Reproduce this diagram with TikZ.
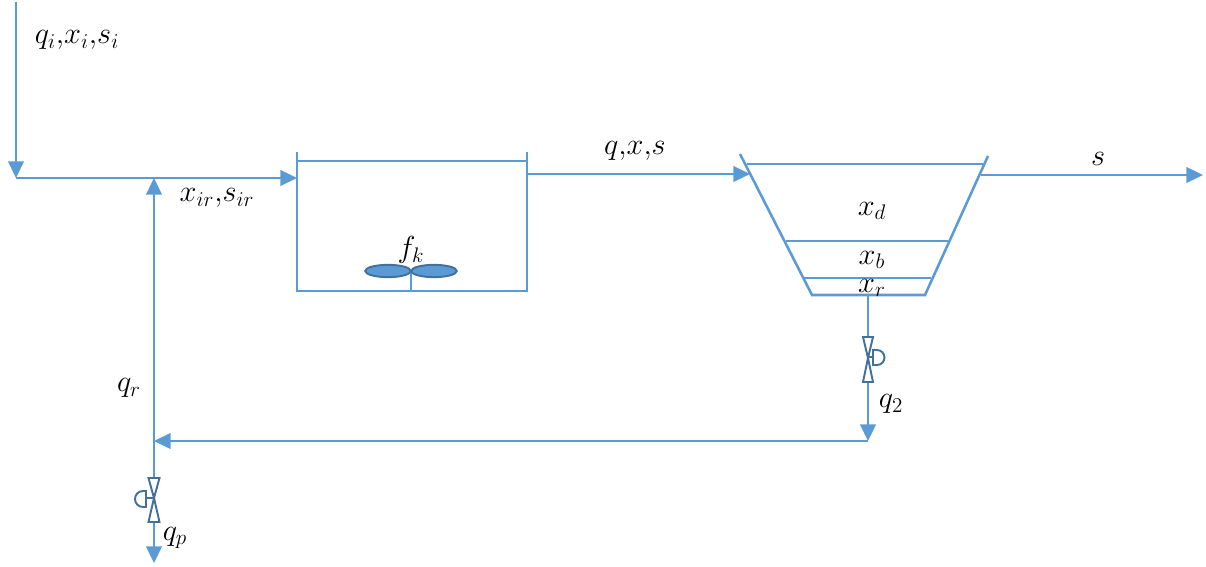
\documentclass[tikz,border=0pt]{standalone}
\usetikzlibrary{arrows.meta,shapes.geometric}
\tikzset{
  pipe/.style={flowblue,line width=1pt},
  flow/.style={pipe,-{Triangle[length=9.5pt,width=9pt]}},
  wall/.style={flowblue,line width=1.45pt},
  valvepart/.style={valveblue,line width=1.1pt,fill=white,line join=miter},
  blade/.style={ellipse,draw=valveblue,fill=flowblue,line width=1.1pt,minimum width=26pt,minimum height=7pt,inner sep=0pt},
  lab/.style={text=black,font=\fontsize{17.5}{19}\selectfont,inner sep=0pt}
}
\begin{document}
\begin{tikzpicture}[x=0.02cm,y=-0.02cm]
  \definecolor{flowblue}{HTML}{5B9BD5}
  \definecolor{valveblue}{HTML}{41719C}
  \path[use as bounding box] (0,0) rectangle (1206,567);
  % junctions and free ends
  \coordinate (feed) at (16,2);
  \coordinate (mix) at (16,178);
  \coordinate (recyc) at (154,178);
  \coordinate (tankin) at (297,178);
  \coordinate (tankout) at (527,174);
  \coordinate (clarin) at (750,174);
  \coordinate (clarout) at (981,175);
  \coordinate (effluent) at (1203,175);
  \coordinate (drain) at (868,295);
  \coordinate (return) at (868,441);
  \coordinate (tee) at (154,441);
  \coordinate (waste) at (154,563);
  \coordinate (valvea) at (868,337);
  \coordinate (valveb) at (868,382);
  \coordinate (valvec) at (154,478);
  \coordinate (valved) at (154,522);
  % flows
  \draw[flow] (feed) -- (mix);
  \draw[flow] (mix) -- (tankin);
  \draw[flow] (tee) -- (recyc);
  \draw[flow] (tankout) -- (clarin);
  \draw[flow] (clarout) -- (effluent);
  \draw[pipe] (drain) -- (valvea);
  \draw[flow] (valveb) -- (return);
  \draw[flow] (return) -- (tee);
  \draw[pipe] (tee) -- (valvec);
  \draw[flow] (valved) -- (waste);
  % tank
  \draw[wall] (297,152) -- (297,291) -- (527,291) -- (527,152);
  \draw[pipe] (297,161) -- (527,161);
  \draw[pipe] (411,271) -- (411,291);
  \node[blade] (bladel) at (388,271) {};
  \node[blade] (blader) at (434,271) {};
  % clarifier
  \draw[wall] (740,154) -- (812,295) -- (925,295) -- (988,156);
  \draw[pipe] (747,164) -- (983,164);
  \draw[pipe] (786,241) -- (948,241);
  \draw[pipe] (804,278) -- (931,278);
  % valves
  \draw[valvepart] (863,337) -- (873,337) -- (868,358) -- cycle;
  \draw[valvepart] (868,358) -- (873,382) -- (863,382) -- cycle;
  \draw[valvepart] (868,357) -- (873,357);
  \draw[valvepart] (873,350) -- (877,350) arc (-90:90:7.5) -- (873,365) -- cycle;
  \draw[valvepart] (148.5,478) -- (159.5,478) -- (154,498) -- cycle;
  \draw[valvepart] (154,498) -- (159.5,522) -- (148.5,522) -- cycle;
  \draw[valvepart] (154,498) -- (146,498);
  \draw[valvepart] (146,491) -- (143,491) arc (270:90:8) -- (146,507) -- cycle;
  % labels
  \node[lab] (inlab) at (77,40) {$q_i{,}x_i{,}s_i$};
  \node[lab] (irlab) at (217,198) {$x_{ir}{,}s_{ir}$};
  \node[lab] (qxslab) at (635,151) {$q{,}x{,}s$};
  \node[lab] (slab) at (1098,159) {$s$};
  \node[lab] (fklab) at (411,250) {$f_k$};
  \node[lab] (xdlab) at (872,211) {$x_d$};
  \node[lab] (xblab) at (872,260) {$x_b$};
  \node[lab] (xrlab) at (872,288) {$x_r$};
  \node[lab] (qtwolab) at (891,404) {$q_2$};
  \node[lab] (qrlab) at (129,388) {$q_r$};
  \node[lab] (qplab) at (175,538) {$q_p$};
\end{tikzpicture}
\end{document}
